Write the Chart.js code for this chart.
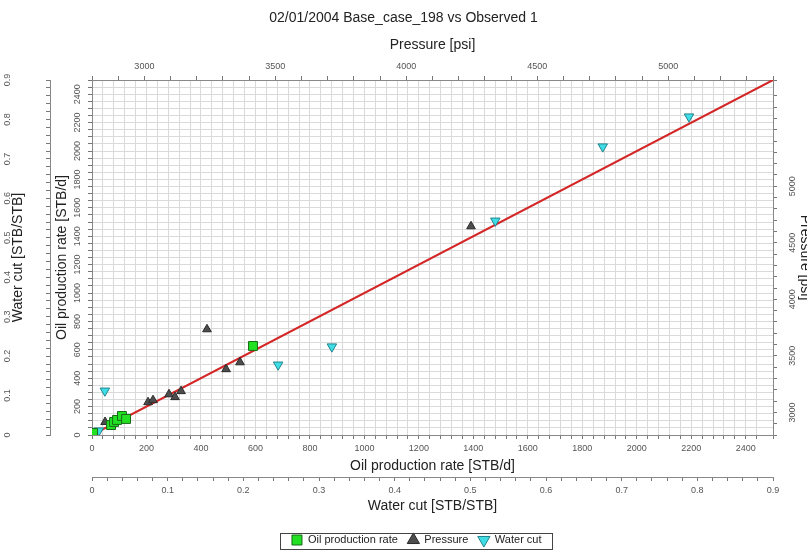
<!DOCTYPE html>
<html>
<head>
<meta charset="utf-8">
<script src="https://cdn.jsdelivr.net/npm/chart.js@4/dist/chart.umd.min.js"></script>
<style>
  html, body { margin: 0; padding: 0; background: #fff; }
</style>
</head>
<body>
<canvas id="chart" width="807" height="550"></canvas>
<script>
const oilX = [4, 70, 81, 92, 110, 125, 591];
const oilY = [14, 70, 92, 106, 134, 113, 627];
const presX = [2850, 3014, 3033, 3094, 3117, 3140, 3239, 3312, 3365, 4247];
const presY = [2915, 3090, 3108, 3160, 3135, 3188, 3735, 3382, 3443, 4646];
const wcX = [0.009, 0.017, 0.246, 0.317, 0.533, 0.675, 0.789];
const wcY = [0.011, 0.112, 0.178, 0.224, 0.543, 0.731, 0.807];
const diag = [0, 2500];

// axis ranges
const oilRange = [0, 2500];
const wcRange = [0, 0.9];
const presTopRange = [2800, 5400];
const presRightRange = [2800, 5940];

const FONT = '"Liberation Sans", Arial, sans-serif';
const tickFont = { family: FONT, size: 9 };
const titleFont = { family: FONT, size: 14 };
const TICK_COLOR = '#555';
const AXIS_COLOR = '#888';

const every = (n, top) => v => (Math.abs(v / n - Math.round(v / n)) < 1e-6 && v <= top) ? v : '';
const pts = (xs, ys) => xs.map((x, i) => ({ x, y: ys[i] }));

function axis(o) {
  return {
    type: 'linear',
    position: o.pos,
    weight: o.weight || 0,
    min: o.range[0],
    max: o.range[1],
    ticks: {
      stepSize: o.step,
      autoSkip: false,
      minRotation: o.rot || 0,
      maxRotation: o.rot || 0,
      crossAlign: 'center',
      padding: o.pad,
      font: tickFont,
      color: TICK_COLOR,
      callback: every(o.label, o.labelMax || Infinity)
    },
    grid: {
      drawOnChartArea: !!o.gridOn,
      color: '#dadada',
      tickColor: '#777',
      tickLength: 4
    },
    border: { color: AXIS_COLOR },
    title: { display: true, text: o.title, font: titleFont, color: '#222', padding: o.tpad },
    afterFit: s => { if (s.isHorizontal()) s.height = o.size; else s.width = o.size; }
  };
}

const legendBox = {
  id: 'legendBox',
  afterLayout(chart) {
    const lg = chart.legend;
    const pad = lg.options.labels.padding;
    const dx = 13;
    const dy = 534.5 - (lg.top + pad);
    lg.left += dx; lg.right += dx;
    lg.top += dy; lg.bottom += dy;
  },
  afterDraw(chart) {
    const boxes = chart.legend.legendHitBoxes;
    if (!boxes || !boxes.length) return;
    const l = Math.min(...boxes.map(b => b.left));
    const r = Math.max(...boxes.map(b => b.left + b.width));
    const ctx = chart.ctx;
    ctx.save();
    ctx.strokeStyle = '#444';
    ctx.lineWidth = 1;
    ctx.strokeRect(Math.round(l - 11) + 0.5, 533.5, Math.round(r - l + 22), 16);
    ctx.restore();
  }
};

new Chart(document.getElementById('chart'), {
  type: 'scatter',
  data: {
    datasets: [
      { label: 'Oil production rate', data: pts(oilX, oilY), xAxisID: 'xOil', yAxisID: 'yOil',
        pointStyle: 'rect', pointRadius: 6.3, backgroundColor: '#22e022', borderColor: '#176b17', borderWidth: 1 },
      { label: 'Pressure', data: pts(presX, presY), xAxisID: 'xP', yAxisID: 'yP',
        pointStyle: 'triangle', pointRadius: 5, backgroundColor: '#4d4d4d', borderColor: '#2a2a2a', borderWidth: 1 },
      { label: 'Water cut', data: pts(wcX, wcY), xAxisID: 'xWc', yAxisID: 'yWc',
        pointStyle: 'triangle', pointRotation: 180, pointRadius: 5.5, backgroundColor: '#3fdde6', borderColor: '#23838c', borderWidth: 1 },
      { label: 'y = x', data: pts(diag, diag), xAxisID: 'xOil', yAxisID: 'yOil',
        showLine: true, pointRadius: 0, borderColor: '#d42626', borderWidth: 2, order: 10 }
    ]
  },
  options: {
    responsive: false,
    animation: false,
    events: [],
    layout: { padding: 0 },
    scales: {
      xOil: axis({ pos: 'bottom', weight: 0, range: oilRange, step: 40, label: 200, pad: 9.5, gridOn: true,
        title: 'Oil production rate [STB/d]', tpad: { top: 0, bottom: 2.6 }, size: 42 }),
      xWc: axis({ pos: 'bottom', weight: 1, range: wcRange, step: 0.02, label: 0.1, pad: 10,
        title: 'Water cut [STB/STB]', tpad: { top: 0, bottom: 5.6 }, size: 43 }),
      xP: axis({ pos: 'top', range: presTopRange, step: 100, label: 500, pad: 9,
        title: 'Pressure [psi]', tpad: { top: 1.8, bottom: 0 }, size: 45.2 }),
      yOil: axis({ pos: 'left', weight: 0, range: oilRange, step: 50, label: 200, pad: 0, rot: 90, gridOn: true,
        title: 'Oil production rate [STB/d]', tpad: { top: 3.6, bottom: 0 }, size: 42 }),
      yWc: axis({ pos: 'left', weight: 1, range: wcRange, step: 0.02, label: 0.1, pad: 32.7, rot: 90,
        title: 'Water cut [STB/STB]', tpad: { top: 9.6, bottom: 0 }, size: 50 }),
      yP: axis({ pos: 'right', range: presRightRange, step: 100, label: 500, labelMax: 5000, pad: 6, rot: 90,
        title: 'Pressure [psi]', tpad: { top: -6.4, bottom: 0 }, size: 34 })
    },
    plugins: {
      title: {
        display: true,
        text: '02/01/2004 Base_case_198 vs Observed 1',
        font: { family: FONT, size: 14, weight: 'normal' },
        color: '#222',
        padding: { top: 10, bottom: 8 }
      },
      legend: {
        position: 'bottom',
        maxHeight: 30,
        labels: {
          usePointStyle: true,
          boxHeight: 10,
          padding: 10,
          font: { family: FONT, size: 11 },
          color: '#222',
          filter: item => item.text !== 'y = x'
        }
      },
      tooltip: { enabled: false }
    }
  },
  plugins: [legendBox]
});
</script>
</body>
</html>
